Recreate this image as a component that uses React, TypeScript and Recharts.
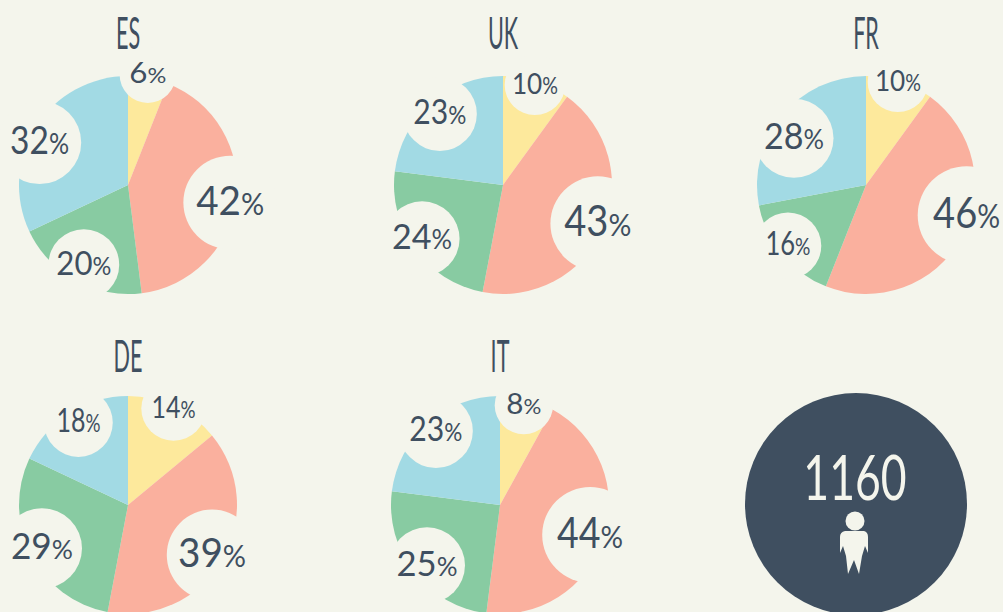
import React from 'react';
import { PieChart, Pie, Cell } from 'recharts';

const BG = '#f4f5ec';
const INK = '#3f4f60';
const FONT = 'Lato, sans-serif';

const sliceColors = ['#fde99c', '#fab09e', '#88cba2', '#a2dae4'];
const sliceNames = ['yellow', 'salmon', 'green', 'blue'];

// percentages per country, clockwise from the top
const esValues = [6, 42, 20, 32];
const ukValues = [10, 43, 24, 23];
const frValues = [10, 46, 16, 28];
const deValues = [14, 39, 29, 18];
const itValues = [8, 44, 25, 23];

const total = '1160';

const toRows = (values: number[]) =>
  values.map((value, i) => ({ name: sliceNames[i], value }));

// where each pie sits, how far each bubble is nudged off its slice's middle,
// and how wide each label runs (the original face is narrower than Lato)
const pies = [
  { title: 'ES', values: esValues, cx: 128, cy: 185, nudge: [[1, -12], [3, 5], [4, -8], [-4, 11]], widths: [37, 68, 55, 59] },
  { title: 'UK', values: ukValues, cx: 503, cy: 185, nudge: [[1, -5], [3, -1], [0, -5], [3, 4]], widths: [46, 67, 60, 53] },
  { title: 'FR', values: frValues, cx: 866, cy: 185, nudge: [[1, -8], [13, -18], [-1, -3], [5, 17]], widths: [46, 67, 45, 60] },
  { title: 'DE', values: deValues, cx: 128, cy: 505, nudge: [[3, -6], [-2, -1], [3, -2], [4, 2]], widths: [44, 68, 62, 44] },
  { title: 'IT', values: itValues, cx: 500, cy: 505, nudge: [[-1, -3], [-5, -1], [6, -1], [2, 1]], widths: [35, 66, 61, 53] },
];

const RADIAN = Math.PI / 180;

// the bubble punched out of the pie, with the percentage inside
const bubbleLabel = (nudge: number[][], widths: number[]) => (props: any) => {
  const { cx, cy, midAngle, value, index } = props;
  const x = cx + 100 * Math.cos(midAngle * RADIAN) + nudge[index][0];
  const y = cy - 100 * Math.sin(midAngle * RADIAN) + nudge[index][1];
  const size = 26 + 0.37 * value;
  // Lato digit is about .58em, the smaller % sign about .6em
  const natural = (String(value).length * 0.58 + 0.6) * size;
  const squeeze = widths[index] / natural;
  return (
    <g key={index}>
      <circle cx={x} cy={y} r={25 + 0.52 * value} fill={BG} />
      <text
        transform={`translate(${x} ${y}) scale(${squeeze} 1)`}
        dy="0.3em"
        textAnchor="middle"
        fill={INK}
        fontFamily={FONT}
        fontSize={size}
      >
        {value}
        <tspan fontSize={size * 0.75}>%</tspan>
      </text>
    </g>
  );
};

function Title({ label, x, y }: { label: string; x: number; y: number }) {
  return (
    <text
      transform={`translate(${x} ${y}) scale(0.48 1)`}
      textAnchor="middle"
      fill={INK}
      fontFamily={FONT}
      fontSize={45}
    >
      {label}
    </text>
  );
}

export default function App() {
  return (
    <div style={{ position: 'fixed', inset: 0, background: BG, overflow: 'hidden' }}>
      <PieChart width={1003} height={612} margin={{ top: 0, right: 0, bottom: 0, left: 0 }}>
        {pies.map((p) => (
          <Pie
            key={p.title}
            data={toRows(p.values)}
            dataKey="value"
            cx={p.cx}
            cy={p.cy}
            outerRadius={109}
            startAngle={90}
            endAngle={-270}
            stroke="none"
            labelLine={false}
            label={bubbleLabel(p.nudge, p.widths)}
            isAnimationActive={false}
          >
            {p.values.map((_, i) => (
              <Cell key={i} fill={sliceColors[i]} />
            ))}
          </Pie>
        ))}
        {pies.map((p) => (
          <Title key={p.title} label={p.title} x={p.cx} y={p.cy > 300 ? 372 : 49} />
        ))}
        <circle cx={856} cy={504} r={111} fill={INK} />
        <text
          transform="translate(855 500) scale(0.73 1)"
          textAnchor="middle"
          fill={BG}
          fontFamily={FONT}
          fontSize={61}
        >
          {total}
        </text>
        <circle cx={855} cy={521} r={9.5} fill={BG} />
        <path
          d="M845 531 L864 531 Q868 532 868 537 L868 553 L865 546 L862 556 L859 574 L854 560 L848 574 L846 556 L843 546 L840 553 L840 537 Q840 532 845 531 Z"
          fill={BG}
        />
      </PieChart>
    </div>
  );
}
